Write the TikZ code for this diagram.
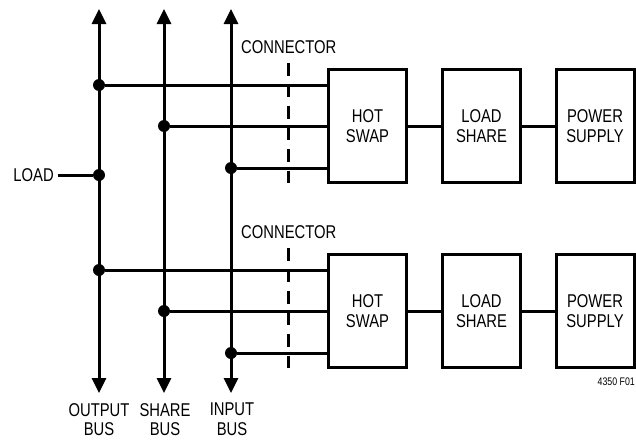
\documentclass[tikz,border=0pt]{standalone}
\usepackage{fontspec}
\setmainfont{Liberation Sans}[FakeStretch=0.8]
\usetikzlibrary{arrows.meta}
\tikzstyle{block}=[draw,line width=3pt,minimum width=78pt,minimum height=113pt,inner sep=0pt,align=center,font=\fontsize{18.5}{20}\selectfont]
\tikzstyle{wire} = [draw,line width=3pt]
\tikzstyle{bus} = [draw,line width=3pt,{Triangle[length=15pt,width=14pt]}-{Triangle[length=15pt,width=14pt]}]
\tikzstyle{junction}=[circle,fill=black,minimum size=12pt,inner sep=0pt]
\tikzstyle{connector} = [draw,line width=3pt,dash pattern=on 12.5pt off 9pt]
\tikzstyle{txt} = [font=\fontsize{18.5}{19.5}\selectfont,inner sep=0pt,align=center]

\begin{document}
\begin{tikzpicture}[x=1pt,y=-1pt]
    \useasboundingbox (0,0) rectangle (636,439);
    % First the three buses
    \foreach \x/ \name in {99/out,164/share,231/in} {
        \coordinate (\name-top) at (\x,9);
        \coordinate (\name-bot) at (\x,393);
        \path[bus] (\name-bot) -- (\name-top);
    }
    \node[txt,anchor=north] (out-lbl) at (99,403) {OUTPUT\\BUS};
    \node[txt,anchor=north] (share-lbl) at (165,403) {SHARE\\BUS};
    \node[txt,anchor=north] (in-lbl) at (232,403) {INPUT\\BUS};

    % Two cards: hot swap, load share, power supply
    \foreach \y/ \row in {126/a,311/b} {
        \node[block] (hs-\row) at (367.5,\y) {HOT\\SWAP};
        \node[block] (ls-\row) at (481.5,\y) {LOAD\\SHARE};
        \node[block] (ps-\row) at (595,\y) {POWER\\SUPPLY};
        \path[wire] (hs-\row) -- (ls-\row);
        \path[wire] (ls-\row) -- (ps-\row);

        % Taps from the buses into the hot swap
        \foreach \name/ \dy [evaluate=\dy as \yy using \y+\dy] in {out/-41,share/0,in/42} {
            \node[junction] (j-\name-\row) at (\name-top |- 0,\yy) {};
            \path[wire] (j-\name-\row) -- (hs-\row.west |- j-\name-\row);
        }

        % The connector
        \coordinate (c-\row-top) at (288,\y-63);
        \coordinate (c-\row-bot) at (288,\y+61);
        \path[connector] (c-\row-top) -- (c-\row-bot);
        \node[txt,anchor=base west] (c-\row-lbl) at (241,\y-73) {CONNECTOR};
    }

    % Load on the output bus
    \node[junction] (j-load) at (99,175) {};
    \node[txt,anchor=east] (load) at (54,175) {LOAD};
    \path[wire] ([xshift=4pt]load.east) -- (j-load);

    \node[font=\fontsize{11}{12}\selectfont,anchor=east,inner sep=0pt] (fig) at (635,382) {4350 F01};
\end{tikzpicture}
\end{document}
